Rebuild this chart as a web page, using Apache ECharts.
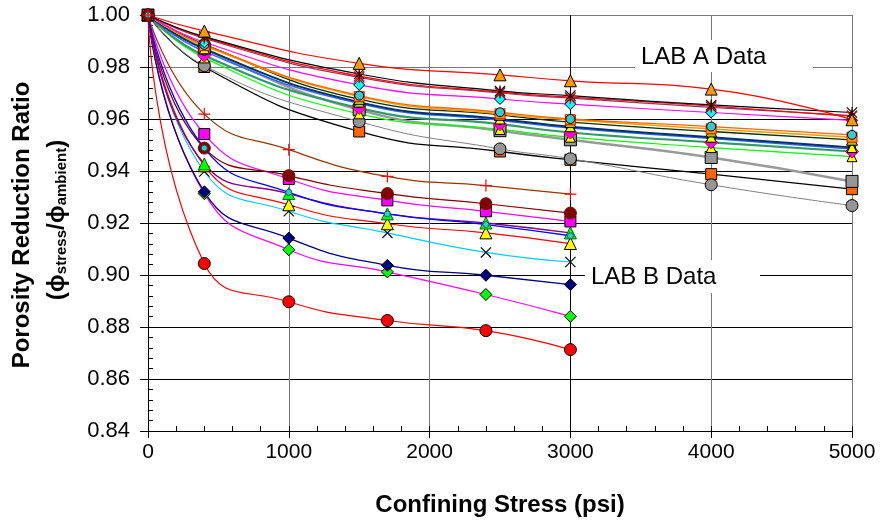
<!DOCTYPE html>
<html><head><meta charset="utf-8">
<script src="https://cdn.jsdelivr.net/npm/echarts@6/dist/echarts.min.js"></script>
<style>html,body{margin:0;padding:0;background:#fff}#c{width:881px;height:525px}</style>
</head><body><div id="c"></div>
<script>
// ---- data ----
const labAStress = [0, 400, 1500, 2500, 3000, 4000, 5000];
const labBStress = [0, 400, 1000, 1700, 2400, 3000];

const labA01 = [1, 0.9938, 0.9814, 0.9770, 0.9747, 0.9715, 0.9597];
const labA02 = [1, 0.9917, 0.9773, 0.9708, 0.9690, 0.9654, 0.9625];
const labA03 = [1, 0.9914, 0.9765, 0.9703, 0.9684, 0.9650, 0.9610];
const labA04 = [1, 0.9910, 0.9760, 0.9700, 0.9680, 0.9645, 0.9613];
const labA05 = [1, 0.9895, 0.9731, 0.9677, 0.9657, 0.9625, 0.9595];
const labA06 = [1, 0.9885, 0.9690, 0.9626, 0.9600, 0.9571, 0.9539];
const labA07 = [1, 0.9882, 0.9686, 0.9620, 0.9597, 0.9562, 0.9530];
const labA08 = [1, 0.9887, 0.9676, 0.9616, 0.9588, 0.9552, 0.9520];
const labA09 = [1, 0.9870, 0.9665, 0.9600, 0.9570, 0.9530, 0.9490];
const labA10 = [1, 0.9860, 0.9660, 0.9595, 0.9565, 0.9525, 0.9485];
const labA11 = [1, 0.9844, 0.9642, 0.9580, 0.9548, 0.9510, 0.9475];
const labA12 = [1, 0.9835, 0.9620, 0.9560, 0.9530, 0.9490, 0.9455];
const labA13 = [1, 0.9870, 0.9635, 0.9555, 0.9520, 0.9452, 0.9360];
const labA14 = [1, 0.9805, 0.9590, 0.9485, 0.9447, 0.9347, 0.9267];
const labA15 = [1, 0.9800, 0.9552, 0.9475, 0.9443, 0.9388, 0.9330];

const labB01 = [1, 0.9619, 0.9482, 0.9379, 0.9344, 0.9311];
const labB02 = [1, 0.9488, 0.9382, 0.9313, 0.9274, 0.9238];
const labB03 = [1, 0.9542, 0.9369, 0.9287, 0.9245, 0.9206];
const labB04 = [1, 0.9427, 0.9313, 0.9235, 0.9200, 0.9162];
const labB05 = [1, 0.9488, 0.9318, 0.9235, 0.9194, 0.9151];
const labB06 = [1, 0.9420, 0.9270, 0.9197, 0.9162, 0.9121];
const labB07 = [1, 0.9398, 0.9245, 0.9162, 0.9087, 0.9050];
const labB08 = [1, 0.9320, 0.9142, 0.9037, 0.8999, 0.8963];
const labB09 = [1, 0.9313, 0.9097, 0.9012, 0.8925, 0.8841];
const labB10 = [1, 0.9044, 0.8897, 0.8825, 0.8786, 0.8713];

const yTicks = [0.84, 0.86, 0.88, 0.90, 0.92, 0.94, 0.96, 0.98, 1.00];
const xTicks = [0, 1000, 2000, 3000, 4000, 5000];

// ---- styles ----
const ASTER = 'path://M9,0L11,0L11,20L9,20Z M0,1.4L1.4,0L20,18.6L18.6,20Z M18.6,0L20,1.4L1.4,20L0,18.6Z';
const XMARK = 'path://M0,1.4L1.4,0L20,18.6L18.6,20Z M18.6,0L20,1.4L1.4,20L0,18.6Z';
const PLUS = 'path://M9,0L11,0L11,20L9,20Z M0,9L20,9L20,11L0,11Z';

const FONT = 'Liberation Sans, Arial, sans-serif';

function mk(xs, ys, st) {
  const path = st.sym.indexOf('path://') === 0;
  return {
    type: 'line',
    data: xs.map((x, i) => [x, ys[i]]),
    smooth: 0.5,
    showAllSymbol: true,
    symbol: st.sym,
    symbolSize: st.size,
    lineStyle: { color: st.line, width: st.lw || 1.2 },
    itemStyle: {
      color: st.fill,
      borderColor: path ? st.fill : (st.border || '#000'),
      borderWidth: path ? 0 : 1
    },
    emphasis: { disabled: true },
    silent: true,
    z: 3
  };
}

const series = [
  mk(labAStress, labA15, { sym: 'rect', size: 11, fill: '#FF6600', line: '#000000', lw: 1.3 }),
  mk(labAStress, labA14, { sym: 'circle', size: 12, fill: '#969696', line: '#808080', lw: 1 }),
  mk(labAStress, labA13, { sym: 'rect', size: 12, fill: '#969696', line: '#999999', lw: 2.5 }),
  mk(labAStress, labA12, { sym: 'triangle', size: 10, fill: '#FFFF00', line: '#00FF00', lw: 1.2 }),
  mk(labAStress, labA11, { sym: 'diamond', size: 13, fill: '#FF00FF', border: '#FF0000', line: '#339966', lw: 2.2 }),
  mk(labAStress, labA10, { sym: 'circle', size: 8, fill: '#3366FF', line: '#3366FF', lw: 1.5 }),
  mk(labAStress, labA09, { sym: 'triangle', size: 10, fill: '#FFFF00', line: '#003366', lw: 2 }),
  mk(labAStress, labA08, { sym: 'triangle', size: 11, fill: '#99CC00', line: '#003300', lw: 1.3 }),
  mk(labAStress, labA07, { sym: 'rect', size: 10, fill: '#FF9900', border: '#FF0000', line: '#FF9900', lw: 1.5 }),
  mk(labAStress, labA06, { sym: 'circle', size: 9, fill: '#33CCCC', line: '#FF6600', lw: 1.3 }),
  mk(labAStress, labA05, { sym: 'diamond', size: 11, fill: '#00FFFF', line: '#FF00FF', lw: 1.2 }),
  mk(labAStress, labA04, { sym: ASTER, size: 11, fill: '#800000', line: '#993366', lw: 1.2 }),
  mk(labAStress, labA03, { sym: ASTER, size: 11, fill: '#FF0000', line: '#FF0000', lw: 1.2 }),
  mk(labAStress, labA02, { sym: ASTER, size: 11, fill: '#000000', line: '#000000', lw: 1.2 }),
  mk(labAStress, labA01, { sym: 'triangle', size: 12, fill: '#FF9900', line: '#FF0000', lw: 1.2 }),

  mk(labBStress, labB10, { sym: 'circle', size: 12, fill: '#FF0000', line: '#FF0000', lw: 1.2 }),
  mk(labBStress, labB09, { sym: 'diamond', size: 12, fill: '#00FF00', line: '#FF00FF', lw: 1.2 }),
  mk(labBStress, labB08, { sym: 'diamond', size: 12, fill: '#000080', line: '#000080', lw: 1.3 }),
  mk(labBStress, labB07, { sym: XMARK, size: 11, fill: '#000000', line: '#00CCFF', lw: 1.2 }),
  mk(labBStress, labB06, { sym: 'triangle', size: 12, fill: '#FFFF00', line: '#FF0000', lw: 1.2 }),
  mk(labBStress, labB04, { sym: 'triangle', size: 12, fill: '#00FF00', border: '#006600', line: '#800080', lw: 1.3 }),
  mk(labBStress, labB03, { sym: 'rect', size: 11, fill: '#FF00FF', line: '#FF00FF', lw: 1.2 }),
  mk(labBStress, labB02, { sym: 'circle', size: 12, fill: '#800000', border: '#800000', line: '#800000', lw: 1.2 }),
  mk(labBStress, labB05, { sym: 'circle', size: 6, fill: '#33CCCC', border: '#006666', line: '#0000FF', lw: 1.3 }),
  mk(labBStress, labB01, { sym: PLUS, size: 12, fill: '#FF0000', line: '#993300', lw: 1.2 })
];

const chart = echarts.init(document.getElementById('c'), null, { renderer: 'canvas' });
const yMin = yTicks[0], yMax = yTicks[yTicks.length - 1];
const xMin = xTicks[0], xMax = xTicks[xTicks.length - 1];

chart.setOption({
  animation: false,
  backgroundColor: '#fff',
  grid: { left: 148, right: 29, top: 15, bottom: 94, containLabel: false },
  xAxis: [{
    type: 'value', min: xMin, max: xMax, interval: 1000,
    axisLine: { lineStyle: { color: '#000', width: 1 } },
    axisTick: { show: true, inside: false, length: 7, lineStyle: { color: '#000' } },
    axisLabel: { color: '#000', fontSize: 21, fontFamily: FONT, margin: 11, formatter: v => String(v) },
    splitLine: { show: true, lineStyle: { color: ['#000', '#777', '#777', '#000', '#777', '#777'], width: 1 } },
    name: 'Confining Stress (psi)', nameLocation: 'middle', nameGap: 62,
    nameTextStyle: { color: '#000', fontSize: 24, fontWeight: 'bold', fontFamily: FONT }
  }, {
    type: 'value', min: xMin, max: xMax, interval: 200, position: 'bottom', offset: 0,
    axisLine: { show: false }, axisLabel: { show: false }, splitLine: { show: false },
    axisTick: { show: true, inside: true, length: 5, lineStyle: { color: '#000', width: 1 } }
  }],
  yAxis: [{
    type: 'value', min: yMin, max: yMax, interval: 0.02,
    axisLine: { show: true, lineStyle: { color: '#000', width: 1 } },
    axisTick: { show: true, inside: false, length: 8, lineStyle: { color: '#000' } },
    axisLabel: { color: '#000', fontSize: 22, fontFamily: FONT, margin: 18, formatter: v => v.toFixed(2) },
    splitLine: { show: true, lineStyle: { color: ['#000', '#000', '#000', '#000', '#000', '#000', '#000', '#777', '#777'], width: 1 } }
  }, {
    type: 'value', min: yMin, max: yMax, interval: 0.004, position: 'left', offset: 0,
    axisLine: { show: false }, axisLabel: { show: false }, splitLine: { show: false },
    axisTick: { show: true, inside: true, length: 5, lineStyle: { color: '#000', width: 1 } }
  }],
  series: series,
  graphic: [
    { type: 'rect', z: 100, shape: { x: 635, y: 40, width: 178, height: 32 }, style: { fill: '#fff' } },
    { type: 'text', z: 101, x: 641, y: 57, style: { text: 'LAB A Data', font: '24px ' + FONT, fill: '#000', verticalAlign: 'middle', align: 'left' } },
    { type: 'rect', z: 100, shape: { x: 585, y: 260, width: 175, height: 33 }, style: { fill: '#fff' } },
    { type: 'text', z: 101, x: 591, y: 277, style: { text: 'LAB B Data', font: '24px ' + FONT, fill: '#000', verticalAlign: 'middle', align: 'left' } },
    { type: 'text', z: 101, x: 22, y: 225, rotation: Math.PI / 2,
      style: { text: 'Porosity Reduction Ratio', font: 'bold 24px ' + FONT, fill: '#000', align: 'center', verticalAlign: 'middle' } },
    { type: 'text', z: 101, x: 57, y: 220, rotation: Math.PI / 2,
      style: {
        text: '(\u03D5{s|stress}/\u03D5{s|ambient})',
        font: 'bold 24px ' + FONT, fill: '#000', align: 'center', verticalAlign: 'middle',
        rich: { s: { fontSize: 15, fontWeight: 'bold', fontFamily: FONT, fill: '#000', verticalAlign: 'bottom', padding: [10, 0, 0, 0] } }
      } }
  ]
});
</script>
</body></html>
